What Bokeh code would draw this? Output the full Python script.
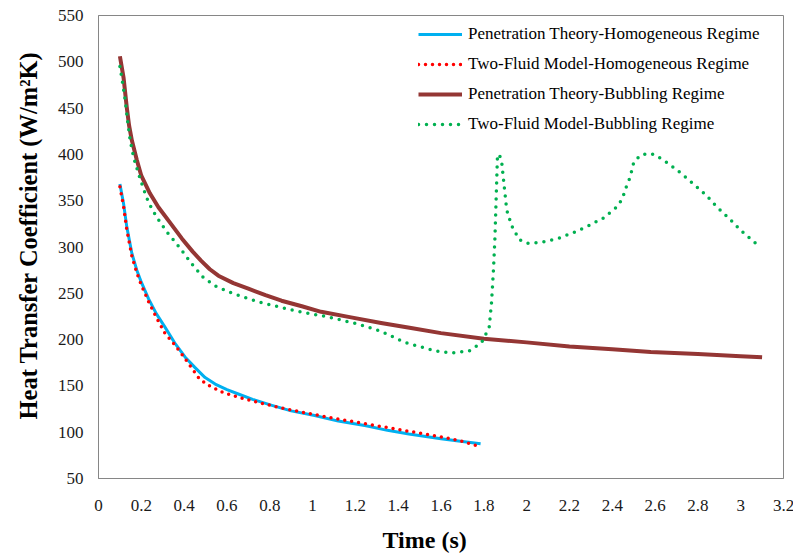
from bokeh.plotting import figure
from bokeh.models import Range1d, FixedTicker, Legend, LegendItem, Title
from bokeh.embed import file_html
from bokeh.resources import INLINE

# ---- data ----
x_ticks = [0, 0.2, 0.4, 0.6, 0.8, 1, 1.2, 1.4, 1.6, 1.8, 2, 2.2, 2.4, 2.6, 2.8, 3, 3.2]
x_tick_labels = ["0", "0.2", "0.4", "0.6", "0.8", "1", "1.2", "1.4", "1.6", "1.8",
                 "2", "2.2", "2.4", "2.6", "2.8", "3", "3.2"]
y_ticks = [50, 100, 150, 200, 250, 300, 350, 400, 450, 500, 550]

pen_homo_x = [0.10, 0.117, 0.132, 0.156, 0.179, 0.20, 0.234, 0.27, 0.312, 0.36, 0.405, 0.45,
              0.498, 0.545, 0.60, 0.65, 0.72, 0.81, 0.9, 1.01, 1.12, 1.25, 1.35, 1.45, 1.6, 1.7, 1.785]
pen_homo_y = [368, 347, 322, 293, 275, 262, 244, 228, 213, 195, 181, 170,
              159, 152, 146, 141.5, 135.5, 129, 123, 118, 112, 107, 102, 98, 93, 90, 87.5]

tf_homo_x = [0.10, 0.117, 0.132, 0.156, 0.179, 0.20, 0.234, 0.27, 0.31, 0.35, 0.39, 0.43, 0.47,
             0.51, 0.545, 0.58, 0.62, 0.68, 0.75, 0.82, 0.9, 1.01, 1.1, 1.2, 1.3, 1.4, 1.5, 1.6,
             1.7, 1.766]
tf_homo_y = [365, 344, 319, 290, 272, 259, 241, 224, 207, 196, 184, 171, 158,
             151, 147, 143, 140, 136, 132, 128, 124, 119, 115, 111, 107, 103, 99, 95,
             90, 85.5]

pen_bub_x = [0.10, 0.117, 0.132, 0.143, 0.156, 0.179, 0.20, 0.24, 0.28, 0.335, 0.39, 0.44, 0.48,
             0.52, 0.56, 0.63, 0.70, 0.78, 0.855, 0.95, 1.04, 1.18, 1.32, 1.46, 1.60, 1.80, 2.0,
             2.2, 2.4, 2.58, 2.8, 3.0, 3.10]
pen_bub_y = [506, 483, 451, 431, 415, 394, 377, 358, 343, 326, 309, 295, 285,
             276, 269, 261, 255, 248, 242, 236, 230, 224, 218, 212.5, 207, 201, 197,
             192.5, 189.5, 186.5, 184.5, 182, 181]

tf_bub_x = [0.10, 0.112, 0.125, 0.136, 0.148, 0.165, 0.187, 0.21, 0.234, 0.27, 0.32, 0.36, 0.39,
            0.435, 0.49, 0.545, 0.62, 0.69, 0.76, 0.84, 0.92, 1.06, 1.21, 1.32, 1.43, 1.50,
            1.58, 1.65, 1.73, 1.76, 1.79, 1.81, 1.825, 1.836, 1.845, 1.852, 1.858, 1.864,
            1.875, 1.883, 1.891, 1.907, 1.93, 1.965, 2.0, 2.07, 2.15, 2.22, 2.29, 2.36,
            2.415, 2.44, 2.456, 2.467, 2.483, 2.50, 2.53, 2.565, 2.60, 2.66, 2.72, 2.78,
            2.84, 2.89, 2.95, 3.00, 3.06, 3.09]
tf_bub_y = [495, 478, 458, 436, 415, 396, 379, 363, 348, 333, 316, 305, 296,
            282, 267, 258, 250.5, 245, 240, 235.5, 231, 225, 217, 209, 197, 192.5,
            187.5, 185.7, 187.5, 192, 197, 206, 213, 240, 275, 310, 355, 400,
            398, 393, 375, 340, 323, 308, 304, 305, 309.5, 315.7, 323, 331.5,
            342, 349.5, 358, 366, 375, 391, 399, 401, 399.6, 390.5, 380, 368,
            355.6, 343, 330, 318, 306, 300]

labels = ["Penetration Theory-Homogeneous Regime",
          "Two-Fluid Model-Homogeneous Regime",
          "Penetration Theory-Bubbling Regime",
          "Two-Fluid Model-Bubbling Regime"]
y_title = "Heat Transfer Coefficient (W/m²K)"
x_title = "Time (s)"

FONT = "Liberation Serif"
AXIS_GRAY = "#868686"

p = figure(frame_width=685, frame_height=463, output_backend="svg", toolbar_location=None,
           x_range=Range1d(0, 3.2), y_range=Range1d(50, 550),
           min_border_left=97, min_border_right=11, min_border_top=15, min_border_bottom=81)

p.background_fill_color = "white"
p.border_fill_color = "white"
p.outline_line_color = AXIS_GRAY
p.outline_line_width = 1
p.xgrid.visible = False
p.ygrid.visible = False

for ax in (p.xaxis[0], p.yaxis[0]):
    ax.axis_line_color = AXIS_GRAY
    ax.major_tick_line_color = None
    ax.minor_tick_line_color = None
    ax.major_tick_in = 0
    ax.major_tick_out = 0
    ax.minor_tick_in = 0
    ax.minor_tick_out = 0
    ax.major_label_text_font = FONT
    ax.major_label_text_font_size = "17px"
    ax.major_label_text_color = "#1a1a1a"

p.xaxis.ticker = FixedTicker(ticks=x_ticks)
p.xaxis.major_label_overrides = {t: s for t, s in zip(x_ticks, x_tick_labels)}
p.xaxis.major_label_standoff = 21
p.yaxis.ticker = FixedTicker(ticks=y_ticks)
p.yaxis.major_label_standoff = 15

r1 = p.line(pen_homo_x, pen_homo_y, line_color="#00B0F0", line_width=3, line_join="round")
r2 = p.line(tf_homo_x, tf_homo_y, line_color="#FF0000", line_width=3.5,
            line_dash="0 7", line_cap="round", line_join="round")
r3 = p.line(pen_bub_x, pen_bub_y, line_color="#943634", line_width=4, line_join="round")
r4 = p.line(tf_bub_x, tf_bub_y, line_color="#00B050", line_width=3.5,
            line_dash="0 8", line_cap="round", line_join="round")

legend = Legend(items=[LegendItem(label=labels[0], renderers=[r1]),
                       LegendItem(label=labels[1], renderers=[r2]),
                       LegendItem(label=labels[2], renderers=[r3]),
                       LegendItem(label=labels[3], renderers=[r4])],
                location=(320, 344))
legend.border_line_color = None
legend.background_fill_alpha = 0
legend.padding = 8
legend.margin = 0
legend.spacing = 10
legend.glyph_width = 44
legend.glyph_height = 20
legend.label_height = 20
legend.label_standoff = 6
legend.label_text_font = FONT
legend.label_text_font_size = "17px"
legend.label_text_color = "#000000"
p.add_layout(legend)

xt = Title(text=x_title, align="left", offset=284, standoff=22,
           text_font=FONT, text_font_size="24px", text_font_style="bold", text_color="#000000")
p.add_layout(xt, "below")
yt = Title(text=y_title, align="left", offset=59, standoff=25,
           text_font=FONT, text_font_size="24.5px", text_font_style="bold", text_color="#000000")
p.add_layout(yt, "left")

open("out.html", "w").write(file_html(p, INLINE))
